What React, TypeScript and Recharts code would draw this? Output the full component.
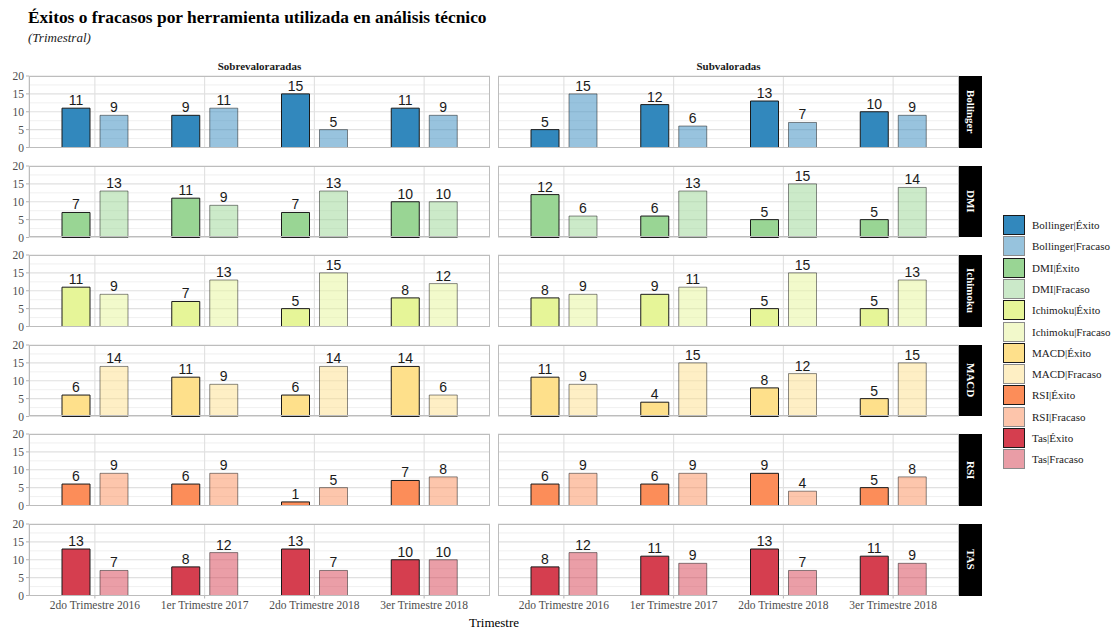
import React from "react";
import { BarChart, Bar, XAxis, YAxis, CartesianGrid, LabelList } from "recharts";

const quarters = [
  "2do Trimestre 2016",
  "1er Trimestre 2017",
  "2do Trimestre 2018",
  "3er Trimestre 2018",
];
const columnTitles = ["Sobrevaloraradas", "Subvaloradas"];
const stripLabels = ["Bollinger", "DMI", "Ichimoku", "MACD", "RSI", "TAS"];
const legendTools = ["Bollinger", "DMI", "Ichimoku", "MACD", "RSI", "Tas"];
const toolColors = ["#3288bd", "#99d594", "#e6f598", "#fee08b", "#fc8d59", "#d53e4f"];
const yTicks = [0, 5, 10, 15, 20];
const yMinor = [2.5, 7.5, 12.5, 17.5];

// éxito / fracaso per quarter
const bollingerSobreExito = [11, 9, 15, 11];
const bollingerSobreFracaso = [9, 11, 5, 9];
const bollingerSubExito = [5, 12, 13, 10];
const bollingerSubFracaso = [15, 6, 7, 9];

const dmiSobreExito = [7, 11, 7, 10];
const dmiSobreFracaso = [13, 9, 13, 10];
const dmiSubExito = [12, 6, 5, 5];
const dmiSubFracaso = [6, 13, 15, 14];

const ichimokuSobreExito = [11, 7, 5, 8];
const ichimokuSobreFracaso = [9, 13, 15, 12];
const ichimokuSubExito = [8, 9, 5, 5];
const ichimokuSubFracaso = [9, 11, 15, 13];

const macdSobreExito = [6, 11, 6, 14];
const macdSobreFracaso = [14, 9, 14, 6];
const macdSubExito = [11, 4, 8, 5];
const macdSubFracaso = [9, 15, 12, 15];

const rsiSobreExito = [6, 6, 1, 7];
const rsiSobreFracaso = [9, 9, 5, 8];
const rsiSubExito = [6, 6, 9, 5];
const rsiSubFracaso = [9, 9, 4, 8];

const tasSobreExito = [13, 8, 13, 10];
const tasSobreFracaso = [7, 12, 7, 10];
const tasSubExito = [8, 11, 13, 11];
const tasSubFracaso = [12, 9, 7, 9];

const exitoByCol = [
  [bollingerSobreExito, dmiSobreExito, ichimokuSobreExito, macdSobreExito, rsiSobreExito, tasSobreExito],
  [bollingerSubExito, dmiSubExito, ichimokuSubExito, macdSubExito, rsiSubExito, tasSubExito],
];
const fracasoByCol = [
  [bollingerSobreFracaso, dmiSobreFracaso, ichimokuSobreFracaso, macdSobreFracaso, rsiSobreFracaso, tasSobreFracaso],
  [bollingerSubFracaso, dmiSubFracaso, ichimokuSubFracaso, macdSubFracaso, rsiSubFracaso, tasSubFracaso],
];

const SERIF = "'Liberation Serif', 'Times New Roman', serif";
const SANS = "'Liberation Sans', Arial, sans-serif";
const PANEL_LEFT = [29, 498];
const PANEL_W = 461;
const PANEL_H = 71.5;
const ROW_TOP = 76;
const ROW_PITCH = 89.6;

function Panel({ row, col }: { row: number; col: number }) {
  const exito = exitoByCol[col][row];
  const fracaso = fracasoByCol[col][row];
  const color = toolColors[row];
  const isBottom = row === 5;
  const isLeft = col === 0;
  const axisW = isLeft ? 29 : 0;
  const padTop = 8;
  const padBottom = isBottom ? 0 : 8;
  const axisH = isBottom ? 24 : 0;
  const top = ROW_TOP + row * ROW_PITCH;
  const left = PANEL_LEFT[col];
  const data = quarters.map((q, i) => ({ q, exito: exito[i], fracaso: fracaso[i] }));

  return (
    <>
      <div style={{ position: "absolute", left: left - axisW, top: top - padTop }}>
        <BarChart
          width={PANEL_W + axisW}
          height={PANEL_H + padTop + padBottom + axisH}
          data={data}
          margin={{ top: padTop, right: 0, bottom: padBottom, left: 0 }}
          barSize={28}
          barGap={10}
        >
          <CartesianGrid
            vertical={false}
            horizontalValues={yMinor}
            stroke="#ececec"
            strokeWidth={0.8}
          />
          <CartesianGrid stroke="#e0e0e0" strokeWidth={1.1} />
          <XAxis
            dataKey="q"
            hide={!isBottom}
            height={axisH}
            interval={0}
            padding={{ left: 11, right: 11 }}
            axisLine={false}
            tickSize={3}
            tickLine={{ stroke: "#b3b3b3" }}
            tick={{ fill: "#4d4d4d", fontSize: 11.5, fontFamily: SERIF }}
          />
          <YAxis
            hide={!isLeft}
            width={29}
            domain={[0, 20]}
            ticks={yTicks}
            interval={0}
            axisLine={false}
            tickSize={3}
            tickLine={{ stroke: "#b3b3b3" }}
            tick={{ fill: "#4d4d4d", fontSize: 11.5, fontFamily: SERIF }}
          />
          <Bar
            dataKey="exito"
            fill={color}
            stroke="#1a1a1a"
            strokeWidth={1}
            isAnimationActive={false}
          >
            <LabelList
              dataKey="exito"
              position="top"
              offset={3}
              style={{ fill: "#1a1a1a", fontSize: 14, fontFamily: SANS }}
            />
          </Bar>
          <Bar
            dataKey="fracaso"
            fill={color}
            fillOpacity={0.5}
            stroke="#1a1a1a"
            strokeOpacity={0.5}
            strokeWidth={1}
            isAnimationActive={false}
          >
            <LabelList
              dataKey="fracaso"
              position="top"
              offset={3}
              style={{ fill: "#1a1a1a", fontSize: 14, fontFamily: SANS }}
            />
          </Bar>
        </BarChart>
      </div>
      <div
        style={{
          position: "absolute",
          left,
          top,
          width: PANEL_W,
          height: PANEL_H,
          border: "1px solid #bdbdbd",
          boxSizing: "border-box",
          pointerEvents: "none",
        }}
      />
    </>
  );
}

function Strip({ row }: { row: number }) {
  return (
    <div
      style={{
        position: "absolute",
        left: 959,
        top: ROW_TOP + row * ROW_PITCH,
        width: 23,
        height: PANEL_H,
        background: "#000",
        color: "#fff",
        display: "flex",
        alignItems: "center",
        justifyContent: "center",
      }}
    >
      <span style={{ writingMode: "vertical-rl", fontFamily: SERIF, fontWeight: "bold", fontSize: 11 }}>
        {stripLabels[row]}
      </span>
    </div>
  );
}

export default function App() {
  const legendItems = legendTools.flatMap((t, i) => [
    { label: `${t}|Éxito`, color: toolColors[i], alpha: 1 },
    { label: `${t}|Fracaso`, color: toolColors[i], alpha: 0.5 },
  ]);

  return (
    <div
      style={{
        position: "absolute",
        left: 0,
        top: 0,
        width: 1114,
        height: 631,
        background: "#fff",
        fontFamily: SERIF,
        overflow: "hidden",
      }}
    >
      <div style={{ position: "absolute", left: 28, top: 7, fontSize: 17.4, fontWeight: "bold", color: "#000" }}>
        Éxitos o fracasos por herramienta utilizada en análisis técnico
      </div>
      <div style={{ position: "absolute", left: 28, top: 30, fontSize: 13, fontStyle: "italic", color: "#222" }}>
        (Trimestral)
      </div>
      {columnTitles.map((t, c) => (
        <div
          key={t}
          style={{
            position: "absolute",
            left: PANEL_LEFT[c],
            width: PANEL_W,
            top: 60,
            textAlign: "center",
            fontSize: 11,
            fontWeight: "bold",
            color: "#1a1a1a",
          }}
        >
          {t}
        </div>
      ))}
      {stripLabels.map((_, r) => (
        <React.Fragment key={r}>
          <Panel row={r} col={0} />
          <Panel row={r} col={1} />
          <Strip row={r} />
        </React.Fragment>
      ))}
      <div
        style={{
          position: "absolute",
          left: PANEL_LEFT[0],
          width: PANEL_LEFT[1] + PANEL_W - PANEL_LEFT[0],
          top: 615,
          textAlign: "center",
          fontSize: 13,
          color: "#000",
        }}
      >
        Trimestre
      </div>
      {legendItems.map((it, i) => (
        <div
          key={it.label}
          style={{ position: "absolute", left: 1003, top: 215 + i * 21.3, display: "flex", alignItems: "center" }}
        >
          <div
            style={{
              width: 22,
              height: 20,
              boxSizing: "border-box",
              background: it.color,
              opacity: it.alpha,
              border: "1px solid #1a1a1a",
            }}
          />
          <span style={{ marginLeft: 7, fontSize: 11, color: "#1a1a1a", whiteSpace: "nowrap" }}>{it.label}</span>
        </div>
      ))}
    </div>
  );
}
